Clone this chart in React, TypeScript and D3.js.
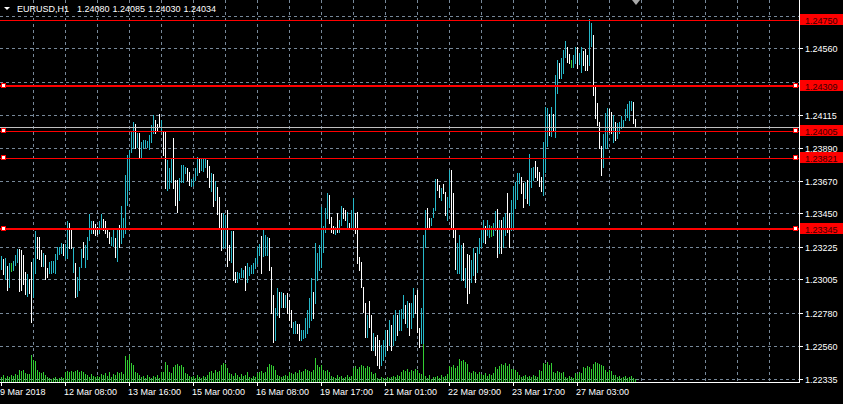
import React from "react";
import * as d3 from "d3";

const symbolTitle = "EURUSD,H1";
const lastQuote = ["1.24080", "1.24085", "1.24030", "1.24034"];

const highs = [
  1.23164,1.23143,1.23150,1.23096,1.23116,1.23116,1.23129,1.23170,1.23210,1.23210,
  1.23204,1.23170,1.23056,1.23042,1.23008,1.23123,1.23143,1.23331,1.23291,1.23291,
  1.23204,1.23184,1.23170,1.23082,1.23123,1.23129,1.23129,1.23177,1.23224,1.23224,
  1.23251,1.23244,1.23244,1.23398,1.23385,1.23351,1.23217,1.23116,1.23022,1.23089,
  1.23210,1.23258,1.23237,1.23291,1.23446,1.23398,1.23398,1.23378,1.23358,1.23398,
  1.23446,1.23412,1.23398,1.23344,1.23325,1.23291,1.23351,1.23284,1.23338,1.23371,
  1.23500,1.23419,1.23708,1.23843,1.23877,1.23998,1.24065,1.24051,1.23991,1.23991,
  1.23931,1.23944,1.23944,1.23937,1.23977,1.24044,1.24112,1.24078,1.24051,1.24119,
  1.24078,1.23998,1.23998,1.23809,1.23755,1.23823,1.23957,1.23675,1.23675,1.23688,
  1.23775,1.23775,1.23762,1.23755,1.23729,1.23681,1.23695,1.23755,1.23830,1.23823,
  1.23823,1.23823,1.23823,1.23809,1.23769,1.23722,1.23715,1.23668,1.23628,1.23560,
  1.23453,1.23453,1.23439,1.23473,1.23237,1.23331,1.23331,1.23056,1.23056,1.23049,
  1.23082,1.23069,1.23096,1.23116,1.23089,1.23102,1.23116,1.23150,1.23224,1.23244,
  1.23298,1.23351,1.23304,1.23291,1.23284,1.23089,1.22900,1.22813,1.22948,1.22921,
  1.22921,1.22914,1.22900,1.22914,1.22867,1.22800,1.22719,1.22725,1.22705,1.22705,
  1.22665,1.22665,1.22746,1.22800,1.22880,1.23015,1.22921,1.23251,1.23184,1.23237,
  1.23493,1.23365,1.23486,1.23587,1.23573,1.23426,1.23365,1.23358,1.23453,1.23405,
  1.23500,1.23486,1.23473,1.23460,1.23385,1.23473,1.23553,1.23453,1.23460,1.23157,
  1.23123,1.22955,1.22847,1.22766,1.22860,1.22766,1.22645,1.22618,1.22631,1.22598,
  1.22564,1.22598,1.22665,1.22665,1.22732,1.22698,1.22766,1.22800,1.22766,1.22800,
  1.22806,1.22900,1.22833,1.22860,1.22847,1.22847,1.22948,1.22900,1.22934,1.22678,
  1.22813,1.23304,1.23473,1.23486,1.23419,1.23419,1.23486,1.23681,1.23681,1.23641,
  1.23621,1.23648,1.23594,1.23560,1.23742,1.23742,1.23587,1.23351,1.23251,1.23304,
  1.23237,1.23251,1.23082,1.23177,1.23170,1.23136,1.23217,1.23184,1.23224,1.23284,
  1.23338,1.23405,1.23365,1.23405,1.23371,1.23365,1.23385,1.23466,1.23479,1.23405,
  1.23405,1.23426,1.23453,1.23587,1.23453,1.23540,1.23635,1.23662,1.23722,1.23722,
  1.23695,1.23655,1.23662,1.23675,1.23850,1.23755,1.23762,1.23802,1.23762,1.23729,
  1.23695,1.23931,1.24166,1.24159,1.24119,1.24166,1.24119,1.24381,1.24482,1.24462,
  1.24496,1.24550,1.24610,1.24570,1.24523,1.24482,1.24516,1.24570,1.24570,1.24530,
  1.24570,1.24543,1.24556,1.24516,1.24758,1.24731,1.24650,1.24301,1.24193,1.24065,
  1.23904,1.23984,1.24126,1.24159,1.24152,1.24133,1.24112,1.24065,1.24058,1.24065,
  1.24106,1.24078,1.24152,1.24186,1.24206,1.24206,1.24200,1.24085,
];

const lows = [
  1.23075,1.23042,1.23008,1.22934,1.22955,1.23062,1.23069,1.23102,1.23123,1.22927,
  1.22934,1.22975,1.22907,1.22894,1.22914,1.22719,1.22887,1.23049,1.23150,1.23143,
  1.23096,1.23096,1.23008,1.23022,1.23049,1.23049,1.23056,1.23049,1.23143,1.23177,
  1.23184,1.23170,1.23150,1.23150,1.23217,1.23217,1.23056,1.22887,1.22894,1.22934,
  1.23089,1.23157,1.23089,1.23143,1.23271,1.23318,1.23318,1.23304,1.23311,1.23318,
  1.23351,1.23338,1.23318,1.23291,1.23251,1.23237,1.23231,1.23157,1.23129,1.23224,
  1.23251,1.23291,1.23318,1.23506,1.23607,1.23864,1.23890,1.23890,1.23897,1.23830,
  1.23830,1.23890,1.23897,1.23897,1.23883,1.23931,1.23991,1.23991,1.24011,1.24031,
  1.23998,1.23843,1.23621,1.23607,1.23621,1.23662,1.23621,1.23506,1.23460,1.23540,
  1.23662,1.23662,1.23722,1.23675,1.23641,1.23635,1.23641,1.23675,1.23708,1.23729,
  1.23742,1.23735,1.23762,1.23695,1.23628,1.23600,1.23500,1.23540,1.23446,1.23358,
  1.23204,1.23217,1.23224,1.23096,1.23136,1.23123,1.23002,1.22989,1.22989,1.23015,
  1.23022,1.23022,1.22934,1.22989,1.23035,1.23049,1.23049,1.23082,1.23116,1.23170,
  1.23049,1.23164,1.23170,1.23170,1.23069,1.22780,1.22585,1.22598,1.22766,1.22753,
  1.22820,1.22820,1.22820,1.22780,1.22732,1.22685,1.22645,1.22645,1.22645,1.22598,
  1.22598,1.22611,1.22618,1.22645,1.22685,1.22732,1.22746,1.22847,1.23002,1.23069,
  1.23089,1.23191,1.23325,1.23419,1.23385,1.23325,1.23318,1.23311,1.23325,1.23325,
  1.23371,1.23419,1.23405,1.23358,1.23351,1.23351,1.23351,1.23318,1.23116,1.23069,
  1.22955,1.22787,1.22618,1.22618,1.22685,1.22531,1.22531,1.22497,1.22429,1.22409,
  1.22429,1.22463,1.22497,1.22531,1.22564,1.22531,1.22564,1.22598,1.22631,1.22665,
  1.22665,1.22746,1.22712,1.22685,1.22631,1.22678,1.22753,1.22780,1.22652,1.22551,
  1.22578,1.22578,1.23224,1.23358,1.23358,1.23371,1.23426,1.23473,1.23607,1.23560,
  1.23540,1.23587,1.23439,1.23405,1.23493,1.23344,1.23291,1.23075,1.23049,1.23049,
  1.23002,1.23002,1.22955,1.22847,1.22914,1.22989,1.23035,1.22989,1.23056,1.23184,
  1.23224,1.23258,1.23251,1.23304,1.23291,1.23298,1.23304,1.23338,1.23157,1.23184,
  1.23184,1.23224,1.23304,1.23325,1.23224,1.23338,1.23351,1.23486,1.23546,1.23655,
  1.23587,1.23493,1.23553,1.23520,1.23506,1.23628,1.23675,1.23695,1.23675,1.23635,
  1.23600,1.23573,1.23729,1.23904,1.23977,1.23971,1.24011,1.23964,1.24260,1.24361,
  1.24361,1.24395,1.24503,1.24469,1.24462,1.24435,1.24435,1.24462,1.24428,1.24455,
  1.24402,1.24448,1.24415,1.24415,1.24448,1.24577,1.24246,1.24092,1.24044,1.23890,
  1.23708,1.23762,1.23890,1.23890,1.23998,1.23991,1.23931,1.23944,1.23957,1.23991,
  1.24024,1.24031,1.24078,1.24099,1.24078,1.24146,1.24058,1.24030,
];

// u = bullish bar, d = bearish bar, n = doji
const barDirections =
  "ududunuuud" + "dddudduudd" + "dudduuuuuu" + "uduudduduu" + "uduuuudddu" +
  "udddduudud" + "uuuuuuudud" + "uuuuuuuddd" + "udduuudddu" + "uuudduuuud" +
  "uuuddududd" + "duuddudduu" + "uuduuuuuuu" + "duuuddduud" + "ududdduudd" +
  "uuuuuuduuu" + "uuuudddudu" + "udduduuddd" + "dddudduddd" + "uuududuudu" +
  "uududuuddd" + "uuudduuudd" + "udduuddduu" + "ududduuduu" + "uuduunuudu" +
  "duudduuuuu" + "dduduuuddd" + "duuududuud" + "uuuddnuudu" + "uddduudddd" +
  "duuudduduu" + "uuuuuudd";

const volumes = [
  5,7,4,6,5, 7,6,8,7,12, 11,12,9,8,8, 27,22,21, 12,10,9,10,7,
  5,4,3,4,5,3,4,5,4, 10,11,10,11,10,11,12,10,11,10,8, 7,5,8,6,5,
  6,5,8,7,9,6,10,5,8,7,10,9,10,8, 26,22,27,19,17,10,9,7,
  5,6,4,7,5,4,6,5,7,4, 10,10,20,17,10,9, 15,17,18,16,17,15, 9,8,6,5,
  6,4,7,5,4,6,5, 7,10,11,9,12,10,11, 17,19,18,14,9, 8,6,9,7,5,8,6,7,
  10,5,4,6,5, 9,10,11,9,10, 15,18,17,16,12, 7,6,5,6,7,6, 10,9,8,10,
  9,12,10,11,13,12,11,10,12, 24,17,15,17, 12,11,12,10,
  6,5,4,7,5,6,4,5,7,5,6, 14,16,13,15,17,16,14,16,15, 10,8,9,
  4,3,5,4,3,5,4, 5,6,5,7,6, 10,12,11,13,10,12,11,13,12,
  9,8,47, 6,4,7,3,5, 5,6,4,7,5,6,8, 16,15,17,14,16, 23,21,22,20,18,
  10,9,11,10,8,10, 8,7,9,6,8,7,9, 15,13,16, 18,17,19,16,18,13, 13,12,10,7,
  5,6,7,5,6,5,7,6,5, 12,11, 19,18,20,17,19, 10,9,11,10,9,10, 5,4,6,5,4,
  9,8,10,9, 15,14,16,15,13, 18,20,19,18,17,16, 12,10,12,11,7,
  7,5,6,4,5,6,4,5,6,4,3,
];

const priceTicks = [1.24780, 1.24560, 1.24335, 1.24115, 1.23890, 1.23670, 1.23450, 1.23225, 1.23005, 1.22780, 1.22560, 1.22335];
const timeTickBars = [0, 32, 64, 96, 128, 160, 192, 224, 256, 288];
const timeTickLabels = ["9 Mar 2018", "12 Mar 08:00", "13 Mar 16:00", "15 Mar 00:00", "16 Mar 08:00", "19 Mar 17:00", "21 Mar 01:00", "22 Mar 09:00", "23 Mar 17:00", "27 Mar 03:00"];
const levelPrices = [1.24750, 1.24309, 1.24005, 1.23821, 1.23345];
const bidPrice = 1.24034;

const FONT = "'Liberation Sans', Arial, sans-serif";

export default function App() {
  const W = 843, H = 404;
  const plotRight = 799, plotBottom = 382;
  const y = d3.scaleLinear().domain([priceTicks[priceTicks.length - 1], priceTicks[0]]).range([379, 15.7]);
  const x = d3.scaleLinear().domain([0, 1]).range([1, 3]);
  const vMax = d3.max(volumes) as number;
  const v = d3.scaleLinear().domain([0, vMax]).range([0, 47]);
  const py = (p: number) => Math.round(y(p));

  const gridX: number[] = [];
  for (let i = 16; x(i) < plotRight - 10; i += 16) gridX.push(x(i));

  const bull = "#26b8c9";
  const bear = "#ffffff";
  const doji = "#32cd32";
  const gridColor = "#778899";

  return (
    <svg width={W} height={H} style={{ position: "absolute", left: 0, top: 0, background: "#000" }} shapeRendering="crispEdges">
      <rect x={0} y={0} width={W} height={H} fill="#000" />
      {priceTicks.map((t) => (
        <line key={"gy" + t} x1={0} x2={plotRight} y1={py(t) + 0.5} y2={py(t) + 0.5} stroke={gridColor} strokeDasharray="3,3" />
      ))}
      {gridX.map((gx) => (
        <line key={"gx" + gx} x1={gx + 0.5} x2={gx + 0.5} y1={0} y2={plotBottom} stroke={gridColor} strokeDasharray="3,3" />
      ))}
      {volumes.map((vol, i) => {
        const h = Math.max(1, Math.round(v(vol)));
        return <rect key={"v" + i} x={x(i)} y={plotBottom - h} width={1} height={h} fill="#32cd32" />;
      })}
      {highs.map((hi, i) => {
        const top = py(hi);
        const bot = py(lows[i]);
        const d = barDirections[i];
        return <rect key={"b" + i} x={x(i)} y={top} width={1} height={Math.max(1, bot - top + 1)} fill={d === "u" ? bull : d === "d" ? bear : doji} />;
      })}
      <line x1={0} x2={plotRight} y1={py(bidPrice) + 0.5} y2={py(bidPrice) + 0.5} stroke="#c0c0c0" />
      {levelPrices.map((p, k) => {
        const ly = py(p);
        const thick = k === 1 || k === 4;
        return (
          <g key={"lv" + p}>
            <line x1={0} x2={plotRight} y1={ly + (thick ? 0 : 0.5)} y2={ly + (thick ? 0 : 0.5)} stroke="#ff0000" strokeWidth={thick ? 2 : 1} />
            {k > 0 && (
              <>
                <rect x={1.5} y={ly - 2.5} width={4} height={4} fill="#fff" stroke="#ff0000" />
                <rect x={793.5} y={ly - 2.5} width={4} height={4} fill="#fff" stroke="#ff0000" />
              </>
            )}
          </g>
        );
      })}
      <line x1={plotRight + 0.5} x2={plotRight + 0.5} y1={0} y2={plotBottom + 1} stroke="#fff" />
      <line x1={0} x2={plotRight + 1} y1={plotBottom + 0.5} y2={plotBottom + 0.5} stroke="#fff" />
      {priceTicks.map((t) => (
        <g key={"pt" + t}>
          <line x1={plotRight} x2={plotRight + 4} y1={py(t) + 0.5} y2={py(t) + 0.5} stroke="#fff" />
          <text x={805} y={py(t) + 4} fill="#fff" fontFamily={FONT} fontSize={9}>{t.toFixed(5)}</text>
        </g>
      ))}
      {timeTickBars.map((b, k) => (
        <g key={"tt" + b}>
          <line x1={x(b) + 0.5} x2={x(b) + 0.5} y1={plotBottom} y2={plotBottom + 4} stroke="#fff" />
          <text x={x(b) - 1} y={395} fill="#fff" fontFamily={FONT} fontSize={9}>{timeTickLabels[k]}</text>
        </g>
      ))}
      {levelPrices.map((p) => {
        const ly = py(p);
        return (
          <g key={"ll" + p}>
            <rect x={plotRight + 1} y={ly - 6} width={W - plotRight - 1} height={11} fill="#ff0000" />
            <text x={805} y={ly + 4} fill="#3a0000" fontFamily={FONT} fontSize={9}>{p.toFixed(5)}</text>
          </g>
        );
      })}
      <path d="M4,7 L10,7 L7,10 Z" fill="#fff" shapeRendering="auto" />
      <text x={17} y={12} fill="#fff" fontFamily={FONT} fontSize={9}>{symbolTitle}</text>
      {lastQuote.map((q, k) => (
        <text key={"q" + k} x={77 + k * 35.5} y={12} fill="#fff" fontFamily={FONT} fontSize={9}>{q}</text>
      ))}
      <path d="M632,0 L640,0 L636,5 Z" fill="#a9a9a9" shapeRendering="auto" />
    </svg>
  );
}
